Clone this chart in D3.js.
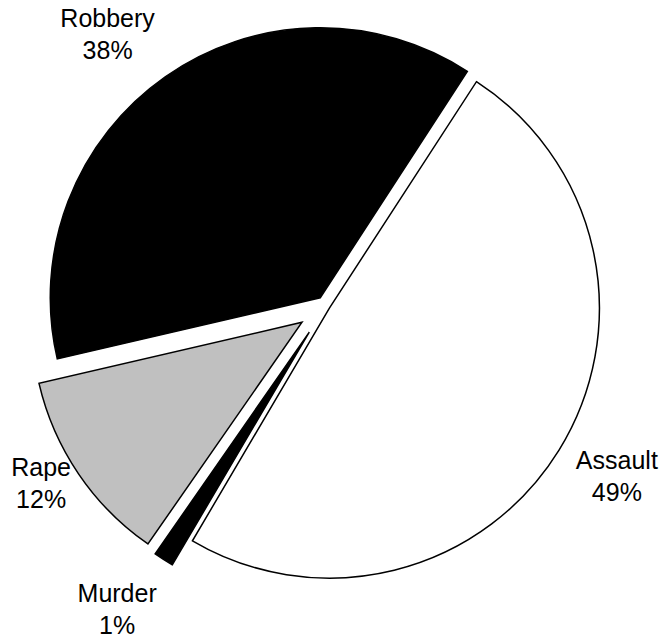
<!DOCTYPE html>
<html>
<head>
<meta charset="utf-8">
<script src="https://cdn.jsdelivr.net/npm/d3@7"></script>
<style>
  body { margin: 0; background: #fff; }
  svg text { font-family: Arial, 'Liberation Sans', sans-serif; font-size: 25px; fill: #000; }
</style>
</head>
<body>
<div id="viz"></div>
<script>
// Crime categories, share of violent crime (%)
const categories = ['Assault', 'Murder', 'Rape', 'Robbery'];
const shares = [49.3, 1.2, 11.7, 37.8];
const pctLabels = ['49%', '1%', '12%', '38%'];

// how far each slice is pulled out of the pie (px)
const explode = { Assault: 4, Murder: 31, Rape: 29, Robbery: 10 };
const fills = { Assault: '#ffffff', Murder: '#000000', Rape: '#c0c0c0', Robbery: '#000000' };
// small hand placement of the labels, like in the original
const labelNudge = { Assault: [5, -7], Murder: [-13, -3], Rape: [14, -26], Robbery: [-22, 8] };

const width = 665,
  height = 640,
  radius = 270,
  cx = 326,
  cy = 306;

const startAngle = 33 * Math.PI / 180;

const data = categories.map((c, i) => ({ name: c, value: shares[i], label: pctLabels[i] }));

const pie = d3.pie()
  .sort(null)
  .value(d => d.value)
  .startAngle(startAngle)
  .endAngle(startAngle + 2 * Math.PI)
  (data);

const path = d3.arc()
  .outerRadius(radius)
  .innerRadius(0);

const labelArc = d3.arc()
  .outerRadius(radius * 1.23)
  .innerRadius(radius * 1.23);

function shift(d) {
  const mid = (d.startAngle + d.endAngle) / 2,
    off = explode[d.data.name];
  return [off * Math.sin(mid), -off * Math.cos(mid)];
}

const svg = d3.select('#viz')
  .append('svg')
  .attr('width', width)
  .attr('height', height);

const g = svg.append('g')
  .attr('transform', 'translate(' + cx + ',' + cy + ')');

const arc = g.selectAll('.arc')
  .data(pie)
  .enter().append('g')
  .attr('class', 'arc')
  .attr('transform', d => 'translate(' + shift(d) + ')');

arc.append('path')
  .attr('d', path)
  .attr('fill', d => fills[d.data.name])
  .attr('stroke', '#000')
  .attr('stroke-width', 1.5)
  .attr('stroke-linejoin', 'miter');

const lineH = 32;

const label = arc.append('text')
  .attr('text-anchor', 'middle')
  .attr('transform', d => {
    const c = labelArc.centroid(d),
      n = labelNudge[d.data.name];
    return 'translate(' + (c[0] + n[0]) + ',' + (c[1] + n[1]) + ')';
  });

label.append('tspan')
  .attr('x', 0)
  .attr('y', -7)
  .text(d => d.data.name);

label.append('tspan')
  .attr('x', 0)
  .attr('y', -7 + lineH)
  .text(d => d.data.label);
</script>
</body>
</html>
